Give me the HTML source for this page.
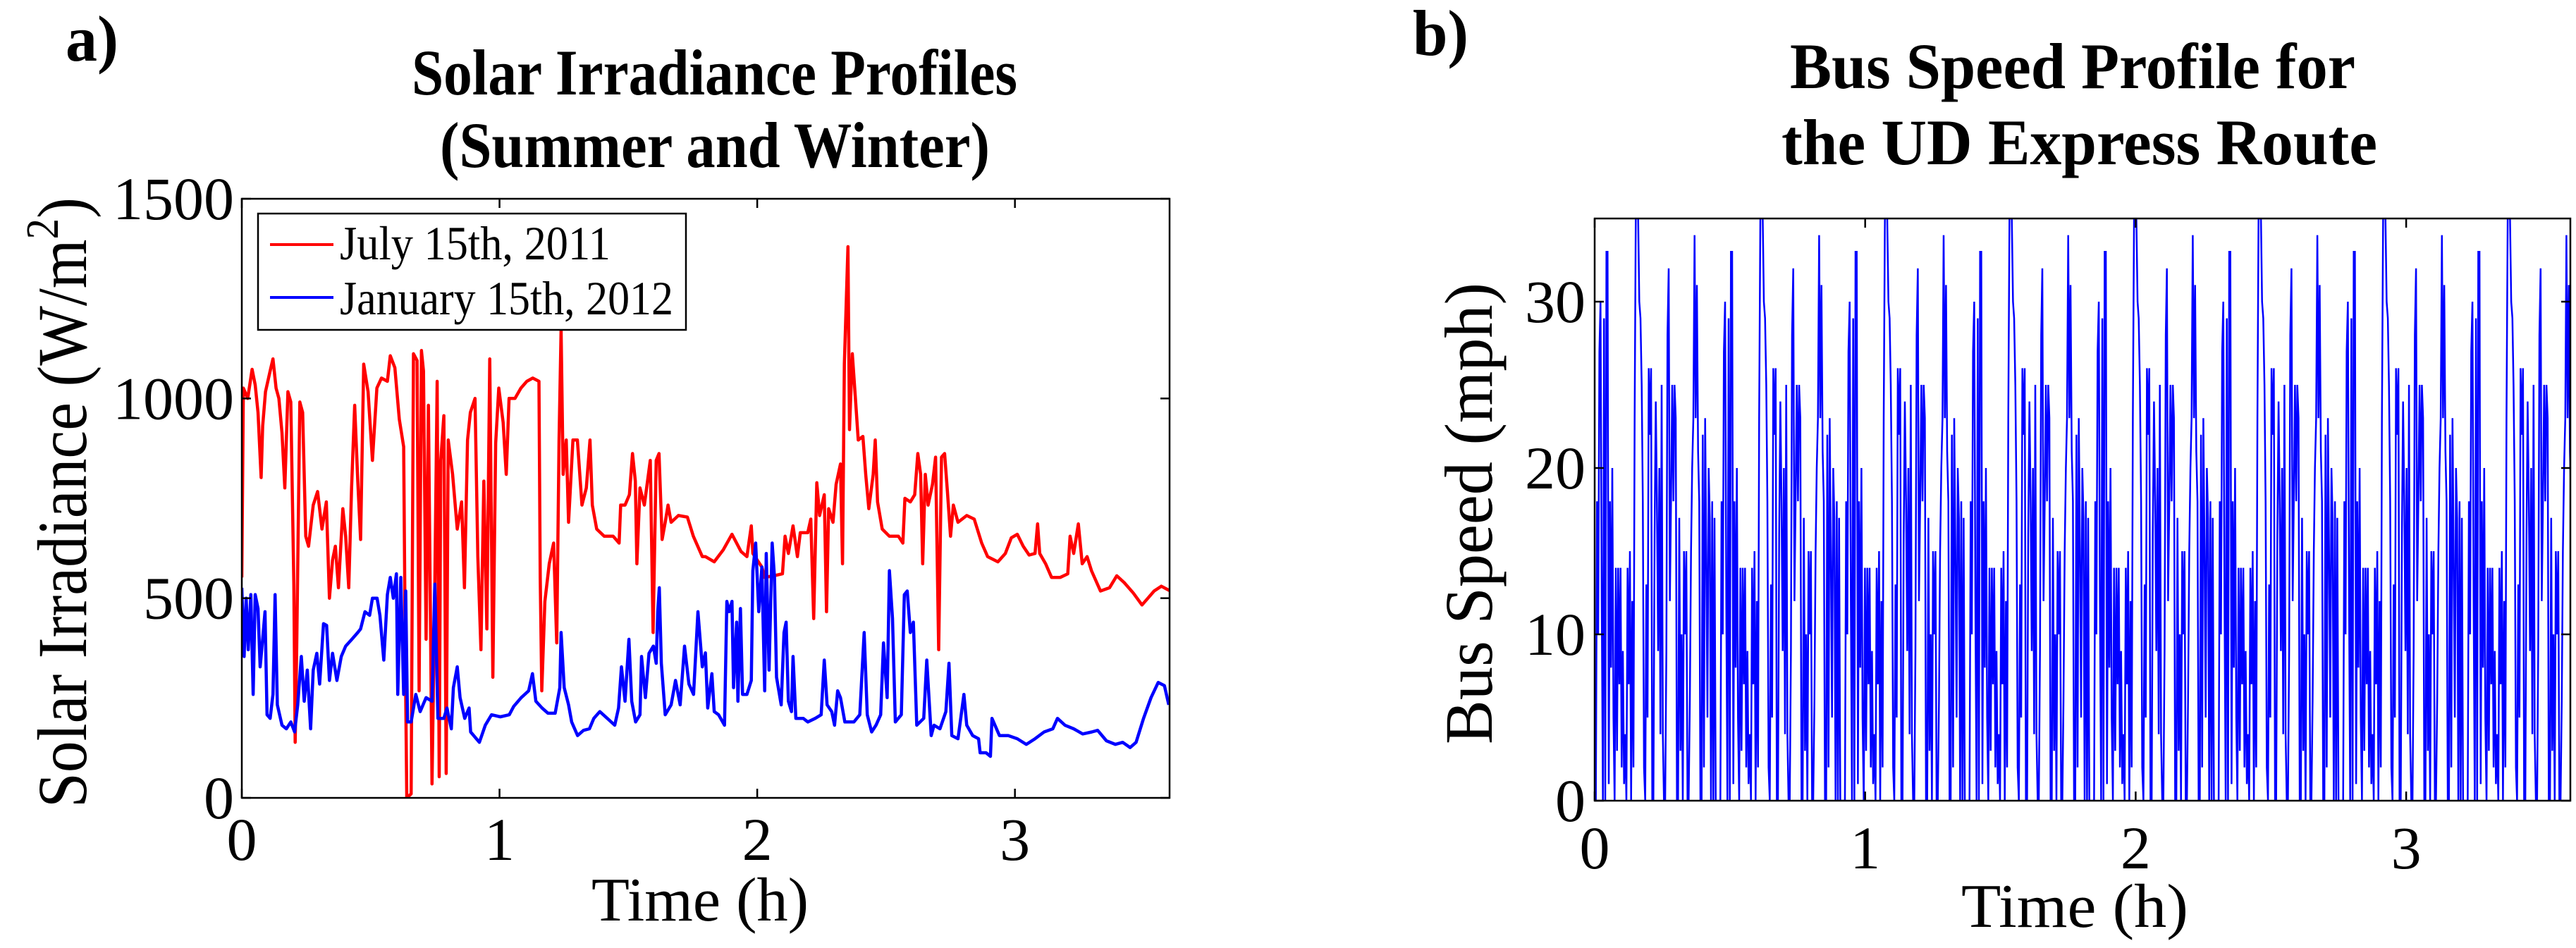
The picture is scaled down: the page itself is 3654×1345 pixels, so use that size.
<!DOCTYPE html>
<html><head><meta charset="utf-8"><style>
html,body{margin:0;padding:0;background:#fff;}
svg{display:block;}
text{font-family:"Liberation Serif",serif;}
</style></head><body>
<svg id="fig" width="3654" height="1345" viewBox="0 0 3654 1345" xmlns="http://www.w3.org/2000/svg" style="position:absolute;left:0;top:0">
<rect width="3654" height="1345" fill="#fff"/>
<g id="left"></g>
<g id="right"></g>
<text x="93" y="86" font-family="Liberation Serif, serif" font-size="92" font-weight="bold" textLength="75" lengthAdjust="spacingAndGlyphs">a)</text>
<text x="2004" y="78" font-family="Liberation Serif, serif" font-size="92" font-weight="bold" textLength="79" lengthAdjust="spacingAndGlyphs">b)</text>
<text x="584" y="134" font-family="Liberation Serif, serif" font-size="92" font-weight="bold" textLength="859" lengthAdjust="spacingAndGlyphs">Solar Irradiance Profiles</text>
<text x="624" y="237" font-family="Liberation Serif, serif" font-size="92" font-weight="bold" textLength="780" lengthAdjust="spacingAndGlyphs">(Summer and Winter)</text>
<text x="2539" y="125" font-family="Liberation Serif, serif" font-size="92" font-weight="bold" textLength="802" lengthAdjust="spacingAndGlyphs">Bus Speed Profile for</text>
<text x="2527" y="233" font-family="Liberation Serif, serif" font-size="92" font-weight="bold" textLength="845" lengthAdjust="spacingAndGlyphs">the UD Express Route</text>
<text x="839" y="1306" font-family="Liberation Serif, serif" font-size="88" textLength="308" lengthAdjust="spacingAndGlyphs">Time (h)</text>
<text x="2782" y="1315" font-family="Liberation Serif, serif" font-size="88" textLength="322" lengthAdjust="spacingAndGlyphs">Time (h)</text>
<text transform="translate(122,1146) rotate(-90)" x="0" y="0" font-family="Liberation Serif, serif" font-size="100" textLength="866" lengthAdjust="spacingAndGlyphs">Solar Irradiance (W/m<tspan font-size="66" dy="-40">2</tspan><tspan dy="40">)</tspan></text>
<text transform="translate(2116,1056) rotate(-90)" x="0" y="0" font-family="Liberation Serif, serif" font-size="96" textLength="655" lengthAdjust="spacingAndGlyphs">Bus Speed (mph)</text>
</svg>
<script>
// ---- Chart a) data: Solar irradiance ----
const julyTimes = [0,.006,.023,.040,.052,.063,.075,.081,.092,.110,.121,.133,.144,.156,.167,.179,.190,.202,.207,.213,.225,.236,.248,.259,.277,.294,.311,.328,.340,.352,.363,.375,.392,.403,.415,.426,.438,.450,.461,.473,.490,.507,.524,.542,.565,.576,.594,.611,.628,.634,.640,.657,.666,.680,.688,.697,.705,.715,.724,.738,.749,.758,.766,.772,.784,.793,.801,.818,.836,.853,.864,.876,.887,.905,.916,.928,.939,.951,.962,.974,.985,.997,1.014,1.026,1.037,1.060,1.083,1.106,1.129,1.153,1.158,1.164,1.176,1.193,1.210,1.222,1.231,1.239,1.247,1.259,1.268,1.285,1.302,1.320,1.337,1.351,1.360,1.377,1.406,1.441,1.464,1.470,1.487,1.504,1.516,1.527,1.533,1.545,1.562,1.585,1.596,1.608,1.619,1.631,1.643,1.654,1.666,1.694,1.729,1.752,1.787,
1.799,1.833,1.868,1.902,1.937,1.960,1.977,1.983,2.018,2.029,2.064,2.098,2.108,2.121,2.139,2.156,2.167,2.196,2.208,2.219,2.231,2.242,2.260,2.269,2.277,2.294,2.306,2.323,2.331,2.338,2.352,2.358,2.369,2.381,2.392,2.410,2.421,2.433,2.450,2.458,2.467,2.485,2.513,2.548,2.565,2.573,2.594,2.611,2.623,2.634,2.642,2.652,2.663,2.680,2.692,2.704,2.715,2.727,2.738,2.750,2.761,2.779,2.813,2.842,2.871,2.894,2.934,2.963,2.986,3.009,3.032,3.055,3.078,3.088,3.096,3.119,3.142,3.176,3.205,3.214,3.228,3.246,3.261,3.280,3.297,3.332,3.367,3.395,3.424,3.459,3.493,3.516,3.540,3.568,3.603];
const julyValues = [552,1026,1000,1073,1034,965,802,931,1017,1069,1099,1026,1000,914,776,1017,991,535,139,380,991,965,655,630,733,767,673,741,500,595,630,526,724,655,526,776,983,793,647,1086,1017,845,1026,1051,1043,1107,1077,948,879,380,0,10,1112,1095,268,1120,1069,397,983,35,535,1043,53,845,957,61,896,810,673,741,526,896,965,1000,604,371,793,423,1099,302,888,1026,940,810,1000,1000,1026,1043,1051,1043,552,268,492,586,638,388,896,1172,810,896,690,896,896,733,776,896,733,673,655,655,638,733,733,759,862,793,586,776,733,845,414,845,862,647,690,733,690,707,703,655,604,
604,591,621,660,617,604,681,612,578,552,556,561,655,612,681,604,664,664,698,449,789,707,759,466,724,690,785,836,586,1086,1380,922,1112,1000,896,905,810,724,810,896,741,673,655,655,638,750,741,759,862,810,586,810,733,785,853,371,853,862,767,655,733,690,707,698,638,604,591,612,651,660,630,608,612,686,612,586,552,552,561,655,612,686,586,604,569,518,526,556,539,513,483,500,518,530,518];
const janTimes = [0,.009,.017,.025,.035,.044,.052,.063,.071,.081,.090,.098,.110,.121,.129,.138,.156,.173,.190,.205,.217,.231,.242,.254,.267,.277,.291,.302,.317,.329,.340,.352,.369,.386,.403,.427,.450,.461,.478,.496,.507,.525,.536,.551,.565,.576,.588,.600,.605,.617,.628,.636,.643,.657,.675,.692,.715,.738,.749,.761,.784,.796,.813,.821,.836,.847,.865,.882,.888,.922,.945,.969,1.003,1.038,1.055,1.084,1.113,1.128,1.141,1.165,1.188,1.216,1.234,1.239,1.251,1.268,1.280,1.303,1.326,1.349,1.366,1.389,1.418,1.447,1.462,1.473,1.487,1.502,1.513,1.528,1.545,1.551,1.566,1.580,1.597,1.608,1.614,1.620,1.628,1.643,1.666,1.683,1.701,1.718,1.735,1.753,1.770,1.787,
1.799,1.808,1.824,1.833,1.850,1.873,1.882,1.891,1.902,1.908,1.920,1.925,1.935,1.943,1.960,1.977,1.983,1.994,2.006,2.018,2.029,2.035,2.046,2.058,2.067,2.075,2.093,2.104,2.112,2.121,2.133,2.139,2.150,2.179,2.196,2.225,2.248,2.260,2.271,2.289,2.300,2.312,2.323,2.340,2.375,2.398,2.415,2.427,2.444,2.461,2.479,2.490,2.504,2.513,2.525,2.536,2.559,2.571,2.582,2.594,2.606,2.619,2.646,2.658,2.675,2.686,2.709,2.732,2.744,2.755,2.779,2.802,2.813,2.836,2.859,2.865,2.888,2.905,2.911,2.940,2.974,3.009,3.044,3.078,3.113,3.147,3.165,3.194,3.228,3.263,3.298,3.321,3.355,3.390,3.418,3.447,3.470,3.499,3.528,3.556,3.580,3.597];
const janValues = [526,354,500,371,509,259,509,474,328,397,466,208,199,259,509,233,182,173,190,165,233,354,242,320,173,320,362,285,436,432,294,362,294,354,380,397,414,423,466,457,500,500,457,345,509,552,500,561,259,552,259,518,190,190,259,216,251,242,535,199,199,225,173,276,328,251,199,225,165,139,182,208,203,208,229,251,268,311,242,225,212,212,276,414,276,233,190,156,169,173,199,216,199,182,225,328,242,397,242,190,208,354,251,362,380,337,466,526,337,208,233,294,233,380,285,259,466,328,
363,225,311,216,208,182,492,466,492,276,440,242,474,259,259,294,569,638,466,578,268,612,320,638,552,302,233,414,440,242,216,354,199,199,190,199,208,345,233,216,182,268,251,190,190,208,414,208,165,182,208,388,251,569,449,190,208,509,518,414,440,182,199,345,156,182,173,216,337,156,148,259,182,156,148,113,113,104,199,156,156,148,134,148,165,173,199,182,173,160,165,169,143,134,139,126,139,199,251,289,281,233];
const solarYTicks = [0,500,1000,1500];
const timeTicks = [0,1,2,3];
// ---- Chart b) data: bus speed, one lap of the route (mph), repeated each lap ----
const lapSpeeds = [0,0,18,10,27,30,12,0,29,0,33,33,1,18,8,20,5,0,14,3,14,7,14,2,9,1,4,0,14,7,15,0,12,2,23,35,35,35,30,29,25,18,2,0,13,5,26,22,26,0,0,16,24,18,9,20,4,25,4,0,0,9,28,32,12,18,25,18,25,23,0,0,17,3,10,0,15,10,15,0,0,6,15,20,23,34,23,31,21,18,0,0,22,2,23,15,5,20,17,0,18,0,17,0,0,0];
const lapSampleHours = [0.004344];
const lapCount = [8];
const speedYTicks = [0,10,20,30];

const NS = "http://www.w3.org/2000/svg";
function mk(parent, tag, attrs, text){
  const e = document.createElementNS(NS, tag);
  for (const k in attrs) e.setAttribute(k, attrs[k]);
  if (text !== undefined) e.textContent = text;
  parent.appendChild(e);
  return e;
}
const FF = 'Liberation Serif, serif';

// ---------- Chart a ----------
(function(){
  const g = document.getElementById('left');
  const X0=343, X1=1659, Y0=1132, Y1=282, XMAX=3.6, YMAX=1500;
  const sx = t => X0 + t/XMAX*(X1-X0);
  const sy = v => Y0 - v/YMAX*(Y0-Y1);
  const clip = mk(g,'clipPath',{id:'clipA'});
  mk(clip,'rect',{x:X0,y:Y1,width:X1-X0,height:Y0-Y1});
  let d='';
  julyTimes.forEach((t,i)=>{ d += (i?'L':'M') + sx(t).toFixed(1)+','+sy(julyValues[i]).toFixed(1); });
  const red = mk(g,'path',{d:d,fill:'none',stroke:'#ff0000','stroke-width':4.5,'stroke-linejoin':'round','clip-path':'url(#clipA)'});
  
  
  d='';
  janTimes.forEach((t,i)=>{ d += (i?'L':'M') + sx(t).toFixed(1)+','+sy(janValues[i]).toFixed(1); });
  const blue = mk(g,'path',{d:d,fill:'none',stroke:'#0000ff','stroke-width':4.5,'stroke-linejoin':'round','clip-path':'url(#clipA)'});
  
  
  const frame = mk(g,'rect',{x:X0,y:Y1,width:X1-X0,height:Y0-Y1,fill:'none',stroke:'#000','stroke-width':2.5});
  
  
  solarYTicks.forEach(v=>{
    const y = sy(v);
    mk(g,'line',{x1:X0,y1:y,x2:X0+13,y2:y,stroke:'#000','stroke-width':2.5});
    mk(g,'line',{x1:X1,y1:y,x2:X1-13,y2:y,stroke:'#000','stroke-width':2.5});
    const tl = mk(g,'text',{x:332,y:y+29,'font-size':86,'font-family':FF,'text-anchor':'end'}, String(v));
    
    
  });
  timeTicks.forEach(t=>{
    const x = sx(t);
    mk(g,'line',{x1:x,y1:Y0,x2:x,y2:Y0-13,stroke:'#000','stroke-width':2.5});
    mk(g,'line',{x1:x,y1:Y1,x2:x,y2:Y1+13,stroke:'#000','stroke-width':2.5});
    const tl = mk(g,'text',{x:x,y:1220,'font-size':86,'font-family':FF,'text-anchor':'middle'}, String(t));
    
    
  });
  const lg = mk(g,'g',{});
  
  
  mk(lg,'rect',{x:366,y:303,width:607,height:165,fill:'#fff',stroke:'#000','stroke-width':2.5});
  mk(lg,'line',{x1:383,y1:347,x2:473,y2:347,stroke:'#ff0000','stroke-width':4});
  mk(lg,'line',{x1:383,y1:422,x2:473,y2:422,stroke:'#0000ff','stroke-width':4});
  const l1 = mk(lg,'text',{x:482,y:368,'font-size':68,'font-family':FF,textLength:384,lengthAdjust:'spacingAndGlyphs'},'July 15th, 2011');
  
  
  const l2 = mk(lg,'text',{x:482,y:446,'font-size':68,'font-family':FF,textLength:473,lengthAdjust:'spacingAndGlyphs'},'January 15th, 2012');
  
  
})();

// ---------- Chart b ----------
(function(){
  const g = document.getElementById('right');
  const X0=2262, X1=3646, Y0=1136, Y1=310, XMAX=3.607, YMAX=35;
  const sx = t => X0 + t/XMAX*(X1-X0);
  const sy = v => Y0 - v/YMAX*(Y0-Y1);
  const clip = mk(g,'clipPath',{id:'clipB'});
  mk(clip,'rect',{x:X0,y:Y1,width:X1-X0,height:Y0-Y1});
  const dt = lapSampleHours[0];
  let d='', k=0;
  for (let lap=0; lap<lapCount[0]; lap++){
    for (let i=0;i<lapSpeeds.length;i++){
      const t = (lap*lapSpeeds.length + i)*dt;
      d += (k++?'L':'M') + sx(t).toFixed(1)+','+sy(lapSpeeds[i]).toFixed(1);
    }
  }
  const s = mk(g,'path',{d:d,fill:'none',stroke:'#0000ff','stroke-width':2.5,'clip-path':'url(#clipB)'});
  
  
  const frame = mk(g,'rect',{x:X0,y:Y1,width:X1-X0,height:Y0-Y1,fill:'none',stroke:'#000','stroke-width':2.5});
  
  
  speedYTicks.forEach(v=>{
    const y = sy(v);
    mk(g,'line',{x1:X0,y1:y,x2:X0+13,y2:y,stroke:'#000','stroke-width':2.5});
    mk(g,'line',{x1:X1,y1:y,x2:X1-13,y2:y,stroke:'#000','stroke-width':2.5});
    const tl = mk(g,'text',{x:2249,y:y+29,'font-size':86,'font-family':FF,'text-anchor':'end'}, String(v));
    
    
  });
  timeTicks.forEach(t=>{
    const x = sx(t);
    mk(g,'line',{x1:x,y1:Y0,x2:x,y2:Y0-13,stroke:'#000','stroke-width':2.5});
    mk(g,'line',{x1:x,y1:Y1,x2:x,y2:Y1+13,stroke:'#000','stroke-width':2.5});
    const tl = mk(g,'text',{x:x,y:1232,'font-size':86,'font-family':FF,'text-anchor':'middle'}, String(t));
    
    
  });
})();
</script>
</body></html>
